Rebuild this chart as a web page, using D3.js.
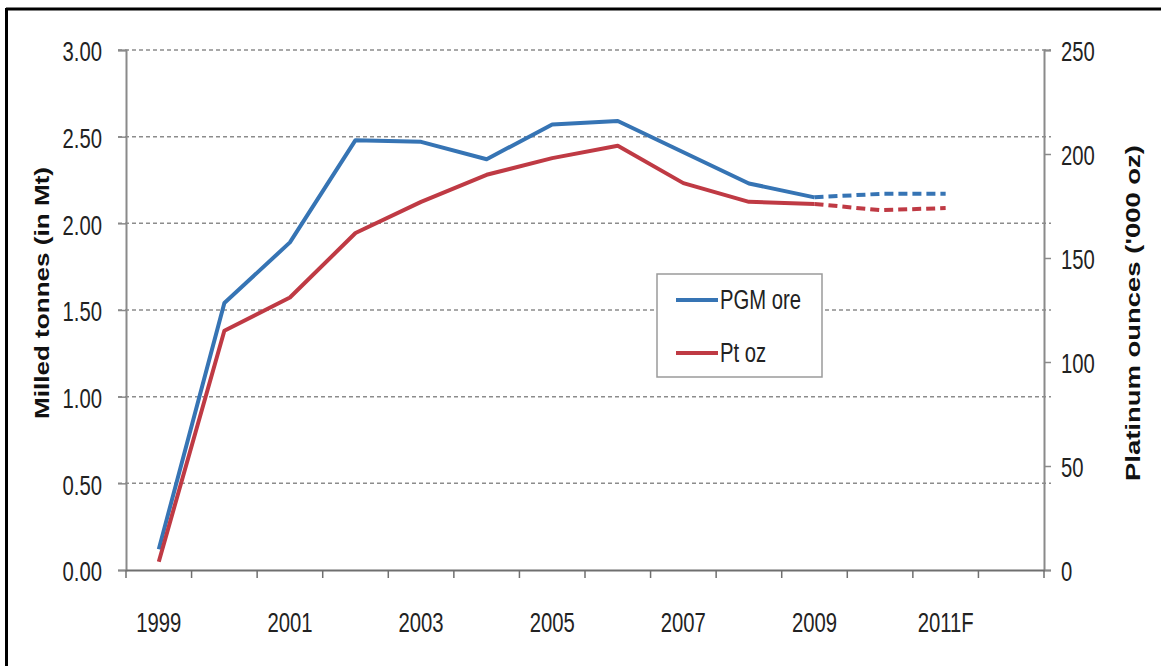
<!DOCTYPE html>
<html>
<head>
<meta charset="utf-8">
<script src="https://cdn.jsdelivr.net/npm/d3@7"></script>
<style>
  html, body { margin: 0; padding: 0; background: #fff; }
  svg { display: block; }
  .tick-label { font-family: "Liberation Sans", Arial, sans-serif; font-size: 27px; fill: #222; }
  .axis-title { font-family: "Liberation Sans", Arial, sans-serif; font-weight: bold; font-size: 20px; fill: #111; }
</style>
</head>
<body>
<svg id="chart" width="1161" height="666"></svg>
<script>
// Categories along the x axis (forecast years marked with F)
const categories = ["1999","2000","2001","2002","2003","2004","2005","2006","2007","2008","2009","2010F","2011F","2012F"];
const labeledCategories = ["1999","2001","2003","2005","2007","2009","2011F"];

// PGM ore milled (Mt) – left axis
const pgmOre = [0.12, 1.54, 1.89, 2.48, 2.47, 2.37, 2.57, 2.59, 2.41, 2.23, 2.15, 2.17, 2.17, null];
// Platinum ounces ('000 oz) – right axis
const ptOz = [4, 115, 131, 162, 177, 190, 198, 204, 186, 177, 176, 173, 174, null];

// Index where the forecast (dashed) part of each line begins
const forecastFrom = 10;

const leftTicks = [0, 0.5, 1.0, 1.5, 2.0, 2.5, 3.0];
const rightTicks = [0, 50, 100, 150, 200, 250];

const seriesNames = ["PGM ore", "Pt oz"];
const colors = ["#3674b4", "#bf3a44"];

const svg = d3.select("#chart");
const W = 1161, H = 666;
const plot = { left: 126, right: 1044, top: 50, bottom: 570 };

svg.append("rect").attr("width", W).attr("height", H).attr("fill", "#fff");

// Frame (top and left edges)
svg.append("line").attr("x1", 6).attr("x2", W).attr("y1", 9).attr("y2", 9)
  .attr("stroke", "#000").attr("stroke-width", 3);
svg.append("line").attr("x1", 6.5).attr("x2", 6.5).attr("y1", 8).attr("y2", H)
  .attr("stroke", "#000").attr("stroke-width", 3);

const x = d3.scaleBand().domain(categories).range([plot.left, plot.right]).padding(0);
const yL = d3.scaleLinear().domain([0, 3]).range([plot.bottom, plot.top]);
const yR = d3.scaleLinear().domain([0, 250]).range([plot.bottom, plot.top]);

// Dashed gridlines
svg.append("g").selectAll("line")
  .data(leftTicks.filter(d => d > 0))
  .join("line")
  .attr("x1", plot.left - 8).attr("x2", plot.right + 7)
  .attr("y1", d => yL(d)).attr("y2", d => yL(d))
  .attr("stroke", "#8c8c8c").attr("stroke-width", 1.5)
  .attr("stroke-dasharray", "4,3");

// Left axis
const leftAxis = svg.append("g").attr("transform", `translate(${plot.left},0)`)
  .call(d3.axisLeft(yL).tickValues(leftTicks).tickFormat(d3.format(".2f")).tickSize(8).tickPadding(16));
// Right axis
const rightAxis = svg.append("g").attr("transform", `translate(${plot.right},0)`)
  .call(d3.axisRight(yR).tickValues(rightTicks).tickSize(7).tickPadding(10));

[leftAxis, rightAxis].forEach(g => {
  g.select(".domain").attr("stroke", "#8a8a8a").attr("stroke-width", 2);
  g.selectAll(".tick line").attr("stroke", "#8a8a8a").attr("stroke-width", 1.5);
  g.selectAll(".tick text").attr("class", "tick-label").attr("dy", "0.4em");
});

// Bottom axis: labels on alternate categories, ticks between categories
const bottomAxis = svg.append("g").attr("transform", `translate(0,${plot.bottom})`)
  .call(d3.axisBottom(x).tickValues(labeledCategories).tickSize(0).tickPadding(62));
bottomAxis.select(".domain").attr("stroke", "#6f6f6f").attr("stroke-width", 2);
bottomAxis.selectAll(".tick text").attr("class", "tick-label").attr("dy", "0");
const boundaries = categories.map(c => x(c)).concat([x.range()[1]]);
bottomAxis.append("g").selectAll("line")
  .data(boundaries)
  .join("line")
  .attr("x1", d => d).attr("x2", d => d)
  .attr("y1", 0).attr("y2", 8)
  .attr("stroke", "#6f6f6f").attr("stroke-width", 1.5);

// Axis titles
svg.append("text").attr("class", "axis-title")
  .attr("transform", `translate(49,293) rotate(-90)`)
  .attr("text-anchor", "middle")
  .attr("textLength", 252).attr("lengthAdjust", "spacingAndGlyphs")
  .text("Milled tonnes (in Mt)");
svg.append("text").attr("class", "axis-title")
  .attr("transform", `translate(1140,313) rotate(-90)`)
  .attr("text-anchor", "middle")
  .attr("textLength", 336).attr("lengthAdjust", "spacingAndGlyphs")
  .text("Platinum ounces ('000 oz)");

// Lines
const cx = c => x(c) + x.bandwidth() / 2;
const series = [
  { values: pgmOre, y: yL, color: colors[0] },
  { values: ptOz, y: yR, color: colors[1] }
];
series.forEach(s => {
  const pts = categories.map((c, i) => ({ c, v: s.values[i], i })).filter(p => p.v != null);
  const line = d3.line().x(p => cx(p.c)).y(p => s.y(p.v));
  svg.append("path").datum(pts.filter(p => p.i <= forecastFrom))
    .attr("d", line).attr("fill", "none")
    .attr("stroke", s.color).attr("stroke-width", 4).attr("stroke-linejoin", "round");
  svg.append("path").datum(pts.filter(p => p.i >= forecastFrom))
    .attr("d", line).attr("fill", "none")
    .attr("stroke", s.color).attr("stroke-width", 4)
    .attr("stroke-dasharray", "9,5");
});

// Legend
const legend = svg.append("g").attr("transform", "translate(657,274)");
legend.append("rect").attr("width", 165).attr("height", 103)
  .attr("fill", "#fff").attr("stroke", "#9a9a9a").attr("stroke-width", 1.5);
seriesNames.forEach((name, i) => {
  const gy = 26 + i * 53;
  legend.append("line").attr("x1", 19).attr("x2", 61).attr("y1", gy).attr("y2", gy)
    .attr("stroke", colors[i]).attr("stroke-width", 4);
  legend.append("text").attr("class", "tick-label").attr("x", 63).attr("y", gy + 9).text(name);
});

// Narrow the label lettering (condensed face)
svg.selectAll(".tick-label").each(function () {
  const len = this.getComputedTextLength();
  d3.select(this).attr("textLength", len * 0.75).attr("lengthAdjust", "spacingAndGlyphs");
});
</script>
</body>
</html>
